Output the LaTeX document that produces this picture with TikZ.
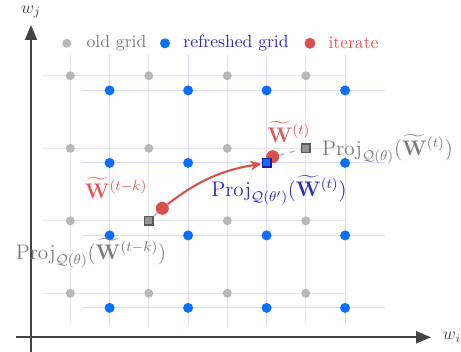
\documentclass[tikz,border=0pt]{standalone}
\usepackage{amsmath,amssymb}
\usetikzlibrary{arrows.meta}

\definecolor{oldgray}{HTML}{B8B8B8}
\definecolor{projgray}{HTML}{5A5A5A}
\definecolor{labgray}{HTML}{7A7A7A}
\definecolor{newblue}{HTML}{0A6EFF}
\definecolor{navy}{HTML}{1C1C9E}
\definecolor{labblue}{HTML}{2B2BB8}
\definecolor{iterred}{HTML}{D9504C}
\definecolor{labred}{HTML}{E05858}
\definecolor{axisgray}{HTML}{444444}

\begin{document}
\begin{tikzpicture}[
  x=0.02cm, y=0.02cm,
  olddot/.style={circle, fill=oldgray, inner sep=0pt, minimum size=1.8mm},
  newdot/.style={circle, fill=newblue, inner sep=0pt, minimum size=2mm},
  iterdot/.style={circle, fill=iterred, inner sep=0pt, minimum size=2.6mm},
  oldproj/.style={rectangle, draw=projgray, fill=oldgray!80!black, line width=0.8pt, inner sep=0pt, minimum size=1.7mm},
  newproj/.style={rectangle, draw=navy, fill=newblue, line width=0.8pt, inner sep=0pt, minimum size=1.7mm},
  oldgridline/.style={draw=gray!18, line width=0.6pt},
  newgridline/.style={draw=blue!14, line width=0.6pt},
  axis/.style={draw=axisgray, line width=1.1pt, -{Triangle[length=3mm, width=2.4mm]}},
  moveedge/.style={draw=iterred, line width=1.2pt, -{Stealth[length=2.2mm, width=2mm]}},
  projedge/.style={draw=oldgray, line width=0.8pt, dashed},
  mathlab/.style={font=\fontsize{11.5}{13}\selectfont}
]
  \useasboundingbox (0,0) rectangle (461,352);

  % --- Ejes ---
  \coordinate (xs) at (15.7,14.7);
  \coordinate (xe) at (431,14.7);
  \coordinate (ys) at (31,0);
  \coordinate (ye) at (31,327);
  \draw[axis] (xs) -- (xe);
  \draw[axis] (ys) -- (ye);
  \node[text=axisgray] (wi) at (452,14.7) {$w_i$};
  \node[text=axisgray] (wj) at (31,340) {$w_j$};

  % --- Lineas de las rejillas (vieja y refrescada) ---
  \foreach \i [evaluate=\i as \gx using 70.3+78.5*\i,
               evaluate=\i as \gy using 58.7+72.5*\i] in {0,...,3} {
    \draw[oldgridline] (\gx,27) -- (\gx,297);
    \draw[oldgridline] (43,\gy) -- (345,\gy);
    \draw[newgridline] (\gx+39.3,27) -- (\gx+39.3,297);
    \draw[newgridline] (82,\gy-14.6) -- (385,\gy-14.6);
  }

  % --- Puntos de las rejillas ---
  \foreach \i in {0,...,3} {
    \foreach \j in {0,...,3} {
      \node[olddot] (g\i\j) at ({70.3+78.5*\i},{58.7+72.5*\j}) {};
      \node[newdot] (b\i\j) at ({109.6+78.5*\i},{44.1+72.5*\j}) {};
    }
  }

  % --- Leyenda ---
  \node[olddot] (lg1) at (66.7,308.7) {};
  \node[text=labgray] (lt1) at (116.5,309) {old grid};
  \node[newdot] (lg2) at (165,308.7) {};
  \node[text=labblue] (lt2) at (236,309) {refreshed grid};
  \node[iterdot, minimum size=2.2mm] (lg3) at (310,308.7) {};
  \node[text=labred] (lt3) at (353.5,309) {iterate};

  % --- Iterados y proyecciones ---
  \node[iterdot] (it1) at (162.3,143.7) {};
  \node[iterdot] (it2) at (272.7,195.3) {};
  \node[oldproj] (proj1) at (g11) {};
  \node[oldproj] (proj2) at (g32) {};

  \draw[projedge] (it1) -- (proj1);
  \draw[projedge] (it2) -- (proj2);
  \draw[moveedge] (it1) to[bend left=14] (b22);
  \node[newproj] (proj3) at (b22) {};

  % Etiquetas
  \node[mathlab, text=labred] (lw1) at (289,220) {$\widetilde{\mathbf{W}}^{(t)}$};
  \node[mathlab, text=labgray, anchor=west] (lp2) at (316,203) {$\mathrm{Proj}_{\mathcal{Q}(\theta)}(\widetilde{\mathbf{W}}^{(t)})$};
  \node[mathlab, text=labblue] (lp3) at (279,162) {$\mathrm{Proj}_{\mathcal{Q}(\theta')}(\widetilde{\mathbf{W}}^{(t)})$};
  \node[mathlab, text=labred] (lw2) at (116,164) {$\widetilde{\mathbf{W}}^{(t-k)}$};
  \node[mathlab, text=labgray] (lp1) at (91,99) {$\mathrm{Proj}_{\mathcal{Q}(\theta)}(\widetilde{\mathbf{W}}^{(t-k)})$};
\end{tikzpicture}
\end{document}
